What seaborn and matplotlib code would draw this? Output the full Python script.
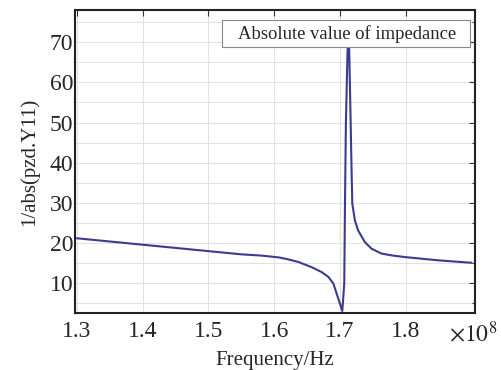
import matplotlib
matplotlib.use("Agg")
import matplotlib.pyplot as plt
import seaborn as sns
import pandas as pd
from matplotlib.ticker import MultipleLocator

# frequency in units of 1e8 Hz
freq = [1.300, 1.350, 1.400, 1.450, 1.500, 1.550, 1.580, 1.6065, 1.620, 1.6368,
        1.657, 1.672, 1.6823, 1.690, 1.695, 1.700, 1.7035, 1.7065, 1.7076, 1.709,
        1.7115, 1.7135, 1.7155, 1.7176, 1.7187, 1.7227, 1.7277, 1.738, 1.748, 1.763,
        1.780, 1.800, 1.850, 1.900]
impedance = [21.2, 20.4, 19.6, 18.8, 18.0, 17.2, 16.9, 16.45, 16.0, 15.3,
             14.0, 12.8, 11.6, 9.9, 7.4, 4.9, 3.1, 10.0, 30.0, 50.0,
             68.0, 72.0, 56.0, 38.1, 29.8, 25.6, 23.1, 20.2, 18.6, 17.4,
             16.9, 16.5, 15.7, 15.1]
xticks = [1.3, 1.4, 1.5, 1.6, 1.7, 1.8]
yticks = [10, 20, 30, 40, 50, 60, 70]

df = pd.DataFrame({"f": freq, "z": impedance})

sns.set_style("white")
plt.rcParams["font.family"] = ["Liberation Serif", "DejaVu Serif"]
plt.rcParams["mathtext.fontset"] = "stix"

fig = plt.figure(figsize=(5.02, 3.70), dpi=100)
ax = fig.add_axes([0.149, 0.154, 0.797, 0.819])

sns.lineplot(data=df, x="f", y="z", sort=False, color="#3c3c8e", linewidth=1.5,
             label="Absolute value of impedance\u2002", ax=ax, zorder=3)

ax.set_xlim(1.297, 1.905)
ax.set_ylim(2.6, 78)
ax.set_xticks(xticks)
ax.set_xticklabels([f"{t:.1f}" for t in xticks])
ax.set_yticks(yticks)
ax.yaxis.set_minor_locator(MultipleLocator(5))

ax.grid(True, which="major", color="#e2e2e2", linewidth=0.7)
ax.grid(True, which="minor", axis="y", color="#e2e2e2", linewidth=0.7)
ax.tick_params(which="both", direction="in", top=True, right=True,
               labelsize=17, color="#333333")
ax.tick_params(which="major", length=4, width=0.8)
ax.tick_params(which="minor", length=2, width=0.8)
ax.tick_params(axis="x", pad=6)
ax.tick_params(axis="y", pad=1)
for s in ax.spines.values():
    s.set_color("#222222")
    s.set_linewidth(1.5)

ax.set_xlabel("Frequency/Hz", fontsize=15, labelpad=6)
ax.set_ylabel("1/abs(pzd.Y11)", fontsize=15, labelpad=8)
ax.text(0.995, -0.068, r"$\times10^{8}$", transform=ax.transAxes,
        fontsize=17, ha="center", va="center")

leg = ax.legend(loc="upper right", bbox_to_anchor=(0.9875, 0.967),
                borderaxespad=0, handlelength=0.6, handletextpad=0,
                fancybox=False, framealpha=1, edgecolor="#888888",
                fontsize=13.4, borderpad=0.25)
for h in leg.legend_handles:
    h.set_visible(False)
leg.get_frame().set_linewidth(0.8)
leg.set_zorder(5)

fig.savefig("out.png", dpi=100)
